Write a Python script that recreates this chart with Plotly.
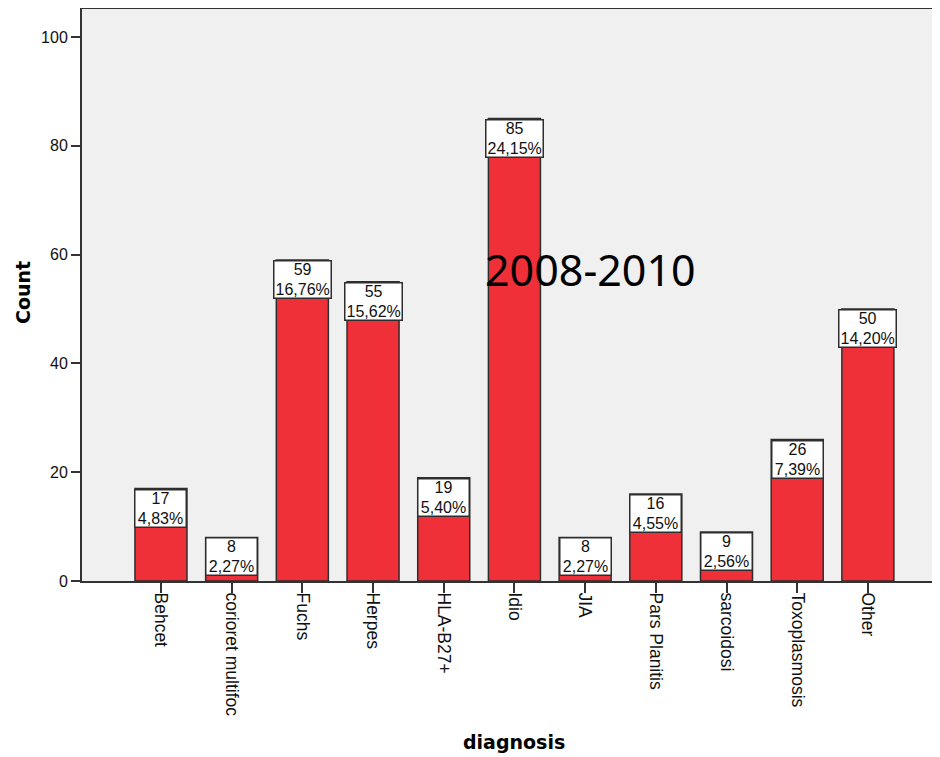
import plotly.graph_objects as go

categories = ["Behcet", "corioret multifoc", "Fuchs", "Herpes", "HLA-B27+", "Idio",
              "JIA", "Pars Planitis", "sarcoidosi", "Toxoplasmosis", "Other"]
counts = [17, 8, 59, 55, 19, 85, 8, 16, 9, 26, 50]
percents = ["4,83%", "2,27%", "16,76%", "15,62%", "5,40%", "24,15%",
            "2,27%", "4,55%", "2,56%", "7,39%", "14,20%"]
y_ticks = [0, 20, 40, 60, 80, 100]

BAR_RED = "#EF3039"
EDGE = "#2E2E2E"
FONT = "Liberation Sans, Arial, sans-serif"

# page has an 8px body margin; figure is placed at (8, 8)
OFF = 8
W, H = 940 - OFF, 757 - OFF
L, R, T = 82 - OFF, 0, 9 - OFF
B = H - (581 - OFF)
pw, ph = W - L - R, H - T - B

fig = go.Figure()
fig.add_trace(go.Bar(
    x=list(range(len(categories))),
    y=counts,
    marker=dict(color=BAR_RED, line=dict(color=EDGE, width=1.5)),
    hoverinfo="skip",
))

annotations = []
for i, (c, p) in enumerate(zip(counts, percents)):
    est = 0.556 * 16 * sum(1 for ch in p if ch.isdigit()) + 0.278 * 16 + 0.889 * 16
    w = max(50, est + 2)
    annotations.append(dict(
        x=i, y=c, xref="x", yref="y",
        text=f"{c}<br>{p}", showarrow=False,
        xanchor="center", yanchor="top",
        font=dict(family=FONT, size=16, color="#111111"),
        bgcolor="white", bordercolor=EDGE, borderwidth=1.5, borderpad=0,
        width=w, height=36, align="center", valign="middle",
    ))


def px_to_paper(px, py):
    return (px - OFF - L) / pw, (H - B - (py - OFF)) / ph


tx, ty = px_to_paper(590, 269)
annotations.append(dict(
    x=tx, y=ty, xref="paper", yref="paper",
    text="2008-2010", showarrow=False, xanchor="center", yanchor="middle",
    font=dict(family="Noto Sans, sans-serif", size=43, color="black"),
))
dx, dy = px_to_paper(514, 742)
annotations.append(dict(
    x=dx, y=dy, xref="paper", yref="paper", text="<b>diagnosis</b>", showarrow=False,
    xanchor="center", yanchor="middle",
    font=dict(family="DejaVu Sans, sans-serif", size=19, color="black"),
))
cx, cy = px_to_paper(23, 293)
annotations.append(dict(
    x=cx, y=cy, xref="paper", yref="paper", text="<b>Count</b>", showarrow=False,
    xanchor="center", yanchor="middle", textangle=-90,
    font=dict(family="DejaVu Sans, sans-serif", size=19, color="black"),
))

fig.update_layout(
    width=W, height=H,
    margin=dict(l=L, r=R, t=T, b=B),
    paper_bgcolor="white",
    plot_bgcolor="#F0F0F0",
    bargap=0.264,
    showlegend=False,
    annotations=annotations,
    xaxis=dict(
        range=[-1.117, 11.02],
        tickmode="array",
        tickvals=list(range(len(categories))),
        ticktext=categories,
        tickangle=90,
        ticks="outside", ticklen=10, tickwidth=1.5, tickcolor="#333333",
        ticklabelstandoff=-4,
        tickfont=dict(family=FONT, size=17.5, color="#111111"),
        showline=True, linecolor="#333333", linewidth=2, mirror=True,
        showgrid=False, zeroline=False,
    ),
    yaxis=dict(
        range=[0, 105.15],
        tickmode="array",
        tickvals=y_ticks,
        ticks="outside", ticklen=9, tickwidth=2, tickcolor="#333333",
        tickfont=dict(family=FONT, size=16, color="#111111"),
        showline=True, linecolor="#333333", linewidth=2,
        showgrid=False, zeroline=False,
    ),
)

fig.write_html("out.html")
